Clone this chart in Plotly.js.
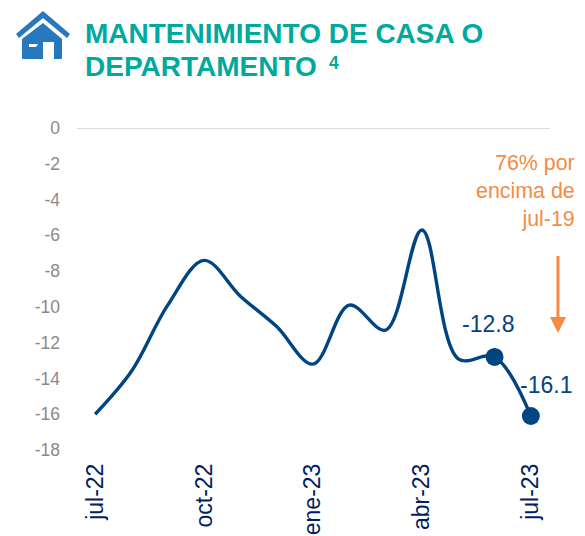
<!DOCTYPE html>
<html><head><meta charset="utf-8">
<script src="https://cdn.plot.ly/plotly-3.0.1.min.js"></script>
<style>html,body{margin:0;padding:0;background:#fff}#c{width:585px;height:536px}</style></head>
<body><div id="c"></div>
<script>
const months = ['jul-22','ago-22','sep-22','oct-22','nov-22','dic-22','ene-23','feb-23','mar-23','abr-23','may-23','jun-23','jul-23'];
const values = [-16.0,-13.6,-9.9,-7.4,-9.4,-11.1,-13.2,-9.9,-11.3,-5.7,-12.9,-12.8,-16.1];
const tickLabels = ['jul-22','oct-22','ene-23','abr-23','jul-23'];
const yTicks = [0,-2,-4,-6,-8,-10,-12,-14,-16,-18];
const yTickLabels = ['0','-2','-4','-6','-8','-10','-12','-14','-16','-18'];
const highlightMonths = months.slice(11);
const highlightValues = values.slice(11);
const NAVY='#004481', GRAY='#8a8a8a', TEAL='#00A99D', ORANGE='#F58B42';
const L=77,R=549,T=128,B=450;
const px=x=>(x-L)/(R-L), py=y=>(B-y)/(B-T);
const icon="data:image/svg+xml;utf8,"+encodeURIComponent(
`<svg xmlns='http://www.w3.org/2000/svg' width='54' height='48' viewBox='0 0 54 48'>
<path fill='#2878BE' d='M27 0 L54 23 L51 27 L27 7 L3 27 L0 23 Z'/>
<path fill='#2878BE' fill-rule='evenodd' d='M27 12 L46 28 L46 47 Q46 48 45 48 L38 48 L38 31 L27 31 L27 48 L7 48 Q6 48 6 47 L6 28 Z M13 33 L13 36 L20 36 L22 33 Z'/>
</svg>`);
const anno=(text,x,y,size,color,extra)=>Object.assign({text,x,y,xref:'paper',yref:'paper',showarrow:false,xanchor:'left',yanchor:'middle',font:{family:'Liberation Sans',size,color}},extra||{});
const arrowPath=`M ${px(550)} ${py(317)} L ${px(566)} ${py(317)} L ${px(558)} ${py(333)} Z`;
Plotly.newPlot('c',[
 {type:'scatter',mode:'lines',x:months,y:values,line:{color:NAVY,width:3.4,shape:'spline',smoothing:1},hoverinfo:'skip'},
 {type:'scatter',mode:'markers',x:highlightMonths,y:highlightValues,marker:{color:NAVY,size:18},hoverinfo:'skip'}
],{
 width:585,height:536,showlegend:false,paper_bgcolor:'#fff',plot_bgcolor:'#fff',
 margin:{l:L,r:585-R,t:T,b:536-B,pad:0},
 xaxis:{type:'category',categoryorder:'array',categoryarray:months,range:[-0.5,12.5],tickmode:'array',tickvals:tickLabels.map((t,i)=>i*3),ticktext:tickLabels,tickangle:-90,showgrid:false,showline:false,zeroline:false,ticks:'',ticklen:0,ticklabelstandoff:8,tickfont:{family:'Liberation Sans',size:23,color:'#002060'}},
 yaxis:{range:[-18,0],tickmode:'array',tickvals:yTicks,ticktext:yTickLabels,showgrid:false,zeroline:false,showline:false,ticks:'',ticklabelstandoff:16,tickfont:{family:'Liberation Sans',size:17.5,color:GRAY}},
 shapes:[
  {type:'line',xref:'paper',yref:'y',x0:0,x1:px(550),y0:0,y1:0,line:{color:'#CFCFCF',width:1.5}},
  {type:'line',xref:'paper',yref:'paper',x0:px(558),x1:px(558),y0:py(256),y1:py(320),line:{color:ORANGE,width:3}},
  {type:'path',xref:'paper',yref:'paper',path:arrowPath,fillcolor:ORANGE,line:{width:0}}
 ],
 images:[{source:icon,xref:'paper',yref:'paper',x:px(16),y:py(11),sizex:54/(R-L),sizey:48/(B-T),xanchor:'left',yanchor:'top',sizing:'stretch',layer:'above'}],
 annotations:[
  anno('<b>MANTENIMIENTO DE CASA O</b>',px(83),py(33.5),28,TEAL),
  anno('<b>DEPARTAMENTO</b>',px(83),py(66),28,TEAL),
  anno('<b>4</b>',px(333.5),py(63),17.5,TEAL,{xanchor:'center'}),
  anno('76% por<br>encima de<br>jul-19',px(577),py(191),21.4,ORANGE,{xanchor:'right',align:'right'}),
  {text:'-12.8',x:'jun-23',y:-12.8,xref:'x',yref:'y',showarrow:false,xshift:-7,yshift:33,font:{family:'Liberation Sans',size:23,color:NAVY}},
  {text:'-16.1',x:'jul-23',y:-16.1,xref:'x',yref:'y',showarrow:false,xshift:15,yshift:31,font:{family:'Liberation Sans',size:23,color:NAVY}}
 ]
},{staticPlot:true,displayModeBar:false});
</script></body></html>
